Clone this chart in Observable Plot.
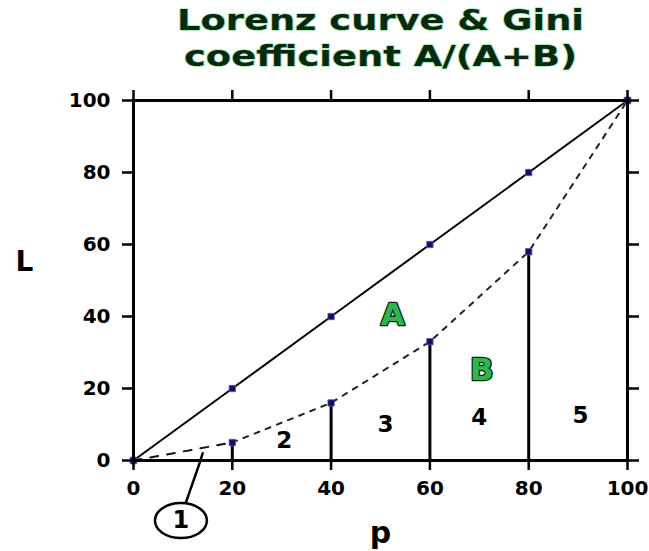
<!DOCTYPE html>
<html>
<head>
<meta charset="utf-8">
<script src="https://cdn.jsdelivr.net/npm/d3@7"></script>
<script src="https://cdn.jsdelivr.net/npm/@observablehq/plot@0.6"></script>
<style>
  html, body { margin: 0; padding: 0; background: #fff; }
  #chart svg { display: block; }
</style>
</head>
<body>
<div id="chart"></div>
<script>
// ---- data ----
const titleLines = ["Lorenz curve & Gini", "coefficient A/(A+B)"];
const xTicks = [0, 20, 40, 60, 80, 100];
const yTicks = [0, 20, 40, 60, 80, 100];
const equalityP = [0, 20, 40, 60, 80, 100];
const equalityL = [0, 20, 40, 60, 80, 100];
const lorenzP = [0, 20, 40, 60, 80, 100];
const lorenzL = [0, 5, 16, 33, 58, 100];
const regionNames = ["2", "3", "4", "5"];
const regionP = [30.5, 51, 70, 90.5];
const regionL = [5.5, 10, 12, 12.5];
const areaNames = ["A", "B"];
const areaP = [52.5, 70.5];
const areaL = [40.5, 25];
const calloutName = "1";
const calloutCenterP = 9.6;
const calloutCenterL = -16.7;
const calloutLineP = [10.6, 13.2, 14];
const calloutLineL = [-11.7, -1.4, 2.0];
const xLabel = "p";
const yLabel = "L";

const equality = equalityP.map((p, i) => ({p, L: equalityL[i]}));
const lorenz = lorenzP.map((p, i) => ({p, L: lorenzL[i]}));
const regions = regionNames.map((t, i) => ({t, p: regionP[i], L: regionL[i]}));
const areas = areaNames.map((t, i) => ({t, p: areaP[i], L: areaL[i]}));
const calloutLine = calloutLineP.map((p, i) => ({p, L: calloutLineL[i]}));
const calloutCenter = [{t: calloutName, p: calloutCenterP, L: calloutCenterL}];

// ellipse symbol for the circled callout
const ellipseSymbol = {
  draw(ctx, size) {
    const rx = 26, ry = 17.5, k = 0.5523;
    ctx.moveTo(rx, 0);
    ctx.bezierCurveTo(rx, ry * k, rx * k, ry, 0, ry);
    ctx.bezierCurveTo(-rx * k, ry, -rx, ry * k, -rx, 0);
    ctx.bezierCurveTo(-rx, -ry * k, -rx * k, -ry, 0, -ry);
    ctx.bezierCurveTo(rx * k, -ry, rx, -ry * k, rx, 0);
    ctx.closePath();
  }
};

const font = "DejaVu Sans, Verdana, sans-serif";
const titleStyle = {frameAnchor: "top", lineAnchor: "middle", fontSize: 28, fontWeight: "bold", fill: "#062a0c", stroke: "#a6e8b4", strokeWidth: 1.5, paintOrder: "stroke"};

const chart = Plot.plot({
  width: 649,
  height: 551,
  marginLeft: 133,
  marginRight: 22,
  marginTop: 100,
  marginBottom: 91,
  style: {fontFamily: font, background: "#fff", overflow: "visible"},
  x: {domain: [0, 100]},
  y: {domain: [0, 100]},
  marks: [
    // stems
    Plot.ruleX(lorenz.filter(d => d.p > 0 && d.p < 100), {x: "p", y1: 0, y2: "L", stroke: "#000", strokeWidth: 3}),
    // equality line
    Plot.line(equality, {x: "p", y: "L", stroke: "#000", strokeWidth: 2}),
    Plot.dot(equality, {x: "p", y: "L", symbol: "square", r: 3.6, fill: "#10106a", stroke: "#5a5ab0", strokeWidth: 0.8}),
    // lorenz curve
    Plot.line(lorenz.slice(0, 2), {x: "p", y: "L", stroke: "#111", strokeWidth: 2, strokeDasharray: "8,9"}),
    Plot.line(lorenz.slice(1), {x: "p", y: "L", stroke: "#222", strokeWidth: 2, strokeDasharray: "5,7"}),
    Plot.dot(lorenz, {x: "p", y: "L", symbol: "square", r: 3.6, fill: "#10106a", stroke: "#5a5ab0", strokeWidth: 0.8}),
    // frame and axes
    Plot.frame({stroke: "#000", strokeWidth: 3}),
    Plot.axisX({ticks: xTicks, tickSize: 10, tickPadding: 10, strokeWidth: 2.5, fontSize: 20, fontWeight: "bold", label: null}),
    Plot.axisX({anchor: "top", ticks: xTicks, tickSize: 11, strokeWidth: 2.5, tickFormat: () => "", label: null}),
    Plot.axisY({ticks: yTicks, tickSize: 11, tickPadding: 12, strokeWidth: 2.5, fontSize: 20, fontWeight: "bold", label: null}),
    Plot.axisY({anchor: "right", ticks: yTicks, tickSize: 11, strokeWidth: 2.5, tickFormat: () => "", label: null}),
    // axis labels
    Plot.text([xLabel], {frameAnchor: "bottom", lineAnchor: "middle", dy: 73, fontSize: 30, fontWeight: "bold", fill: "#000"}),
    Plot.text([yLabel], {frameAnchor: "left", lineAnchor: "middle", dx: -118, dy: -18, fontSize: 28, fontWeight: "bold", fill: "#000"}),
    // title
    Plot.text([titleLines[0]], {...titleStyle, dy: -79, className: "title-l1"}),
    Plot.text([titleLines[1]], {...titleStyle, dy: -43, className: "title-l2"}),
    // region labels
    Plot.text(regions, {x: "p", y: "L", text: "t", fontSize: 23, fontWeight: "bold", fill: "#000"}),
    Plot.text(areas, {x: "p", y: "L", text: "t", fontSize: 31, fontWeight: "bold", fill: "#2fb54e", stroke: "#062a0c", strokeWidth: 2.6}),
    // callout 1
    Plot.line(calloutLine, {x: "p", y: "L", stroke: "#000", strokeWidth: 2.5, clip: false}),
    Plot.dot(calloutCenter, {x: "p", y: "L", symbol: ellipseSymbol, r: 1, fill: "#fff", stroke: "#000", strokeWidth: 2.5}),
    Plot.text(calloutCenter, {x: "p", y: "L", text: "t", fontSize: 24, fontWeight: "bold", fill: "#000"})
  ]
});

// stretch the title lines to the reference widths
d3.select(chart).selectAll(".title-l1 text").attr("textLength", 407).attr("lengthAdjust", "spacingAndGlyphs");
d3.select(chart).selectAll(".title-l2 text").attr("textLength", 393).attr("lengthAdjust", "spacingAndGlyphs");

document.getElementById("chart").appendChild(chart);
</script>
</body>
</html>
